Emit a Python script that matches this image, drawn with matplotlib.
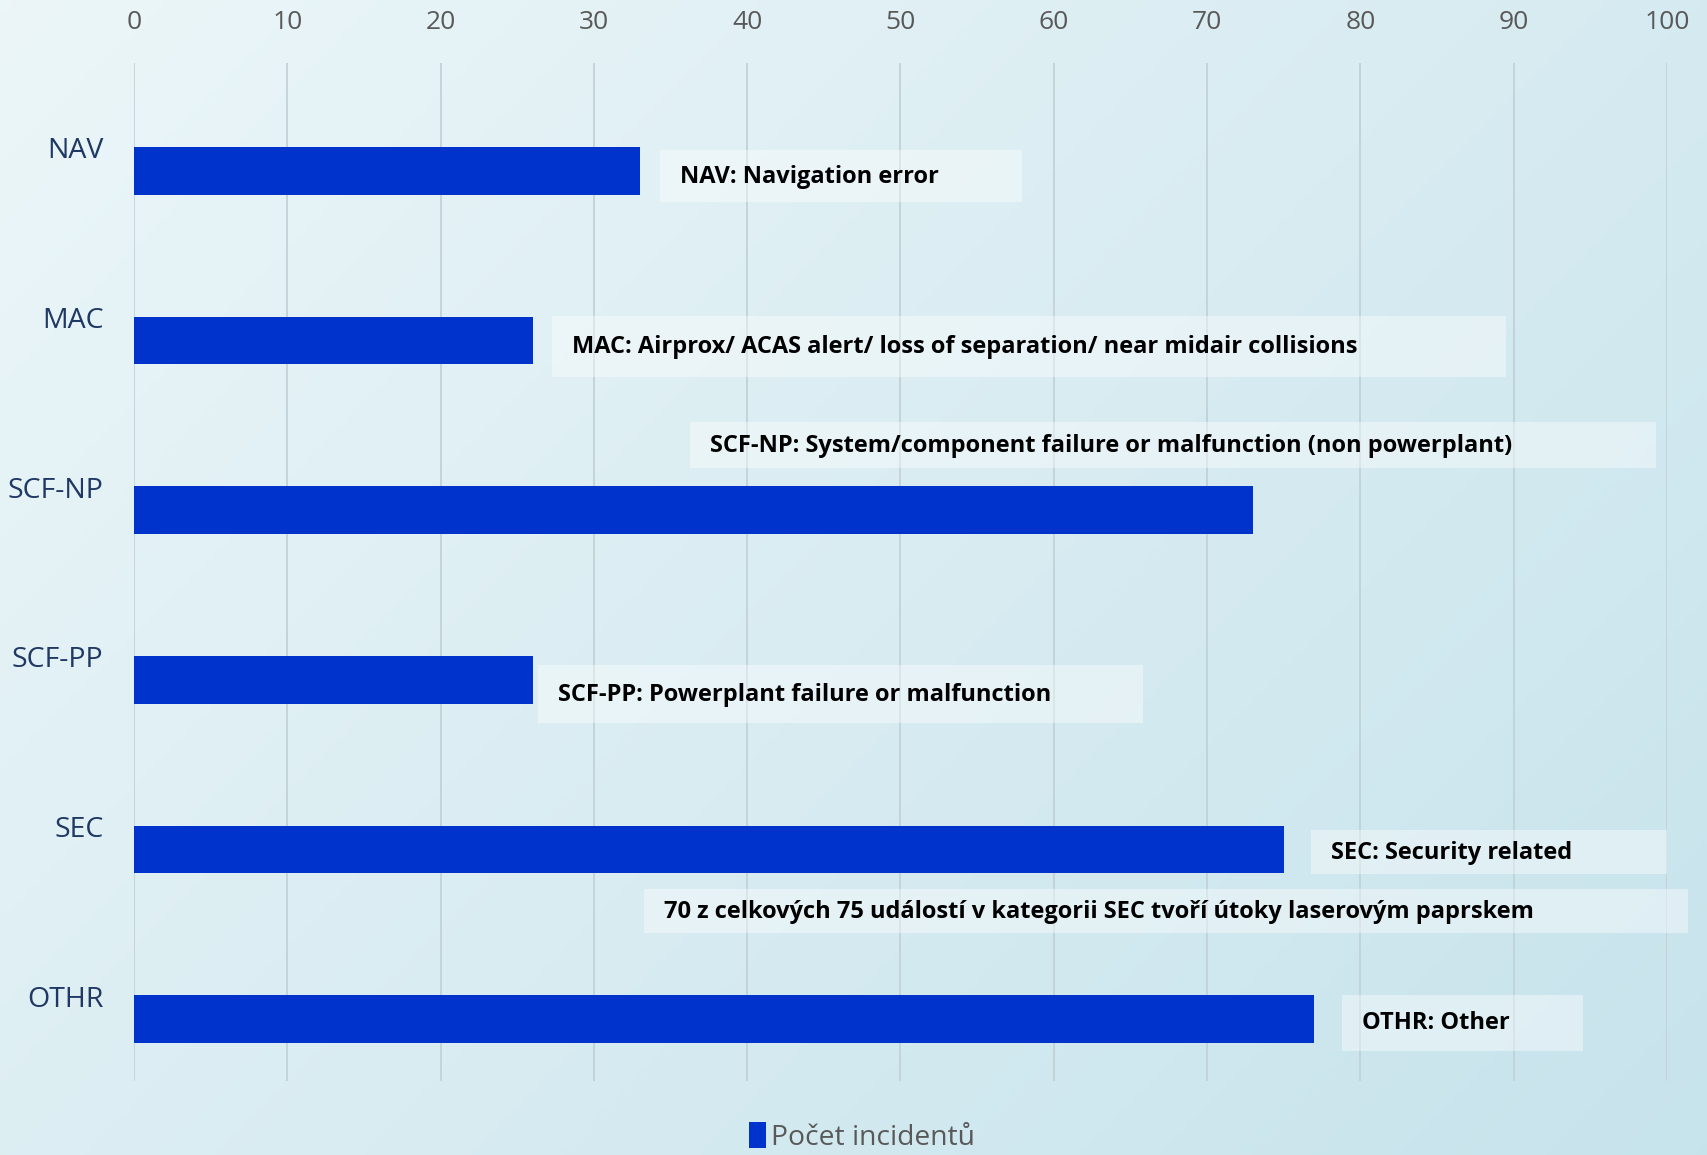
import numpy as np
import matplotlib.pyplot as plt
from matplotlib.patches import Rectangle

plt.rcParams['font.family'] = ['Open Sans', 'DejaVu Sans']

categories = ['NAV', 'MAC', 'SCF-NP', 'SCF-PP', 'SEC', 'OTHR']
incidents = [33, 26, 73, 26, 75, 77]
legend_label = 'Počet incidentů'

notes = [
    'NAV: Navigation error',
    'MAC: Airprox/ ACAS alert/ loss of separation/ near midair collisions',
    'SCF-NP: System/component failure or malfunction (non powerplant)',
    'SCF-PP: Powerplant failure or malfunction',
    'SEC: Security related',
    '70 z celkových 75 událostí v kategorii SEC tvoří útoky laserovým paprskem',
    'OTHR: Other',
]
# box placement (x0, x1, y0, y1) in data units
note_boxes = [
    (34.3, 57.9, 0.01, 0.32),
    (27.3, 89.5, 0.99, 1.35),
    (36.3, 99.3, 1.615, 1.885),
    (26.35, 65.8, 3.045, 3.39),
    (76.8, 100.0, 4.02, 4.28),
    (33.3, 101.4, 4.37, 4.63),
    (78.8, 94.5, 4.99, 5.32),
]

fig = plt.figure(figsize=(17.07, 11.55), dpi=100)

# background gradient
bg = fig.add_axes([0, 0, 1, 1], zorder=-10)
gx, gy = np.meshgrid(np.linspace(0, 1, 300), np.linspace(0, 1, 200))
g = (gx * 0.6 + gy * 0.4)
c0 = np.array([0.925, 0.965, 0.975])
c1 = np.array([0.78, 0.89, 0.925])
img = c0[None, None, :] * (1 - g[..., None]) + c1[None, None, :] * g[..., None]
bg.imshow(img, aspect='auto', extent=[0, 1, 0, 1], origin='upper')
bg.axis('off')

ax = fig.add_axes([0.0785, 0.064, 0.898, 0.8814])
ax.patch.set_alpha(0)

y = np.arange(len(categories))
bar_off = 0.135
ax.barh(y + bar_off, incidents, height=0.28, color='#0033cc', zorder=3,
        label=legend_label)

ax.set_xlim(0, 100)
ax.set_ylim(len(categories) - 0.5, -0.5)
ax.set_xticks(np.arange(0, 101, 10))
ax.xaxis.tick_top()
ax.tick_params(axis='x', length=0, pad=20, labelsize=19, labelcolor='#595959')
ax.set_yticks(y)
ax.set_yticklabels(categories)
ax.tick_params(axis='y', length=0, pad=22, labelsize=20.5, labelcolor='#1f3864')
ax.grid(axis='x', color='#c2d2d6', linewidth=1.3, zorder=0)
for s in ax.spines.values():
    s.set_visible(False)

for txt, (x0, x1, y0, y1) in zip(notes, note_boxes):
    ax.add_patch(Rectangle((x0, y0), x1 - x0, y1 - y0, facecolor='white',
                           alpha=0.4, edgecolor='none', zorder=4, clip_on=False))
    ax.text(x0 + 1.3, (y0 + y1) / 2 + 0.005, txt, fontsize=17, fontweight='bold',
            color='black', va='center', ha='left', zorder=5)

leg = fig.legend(loc='lower center', bbox_to_anchor=(0.505, -0.019), frameon=False,
                 fontsize=20.3, handlelength=0.6, handleheight=1.0, handletextpad=0.2)
for t in leg.get_texts():
    t.set_color('#595959')

fig.savefig('out.png', dpi=100)
